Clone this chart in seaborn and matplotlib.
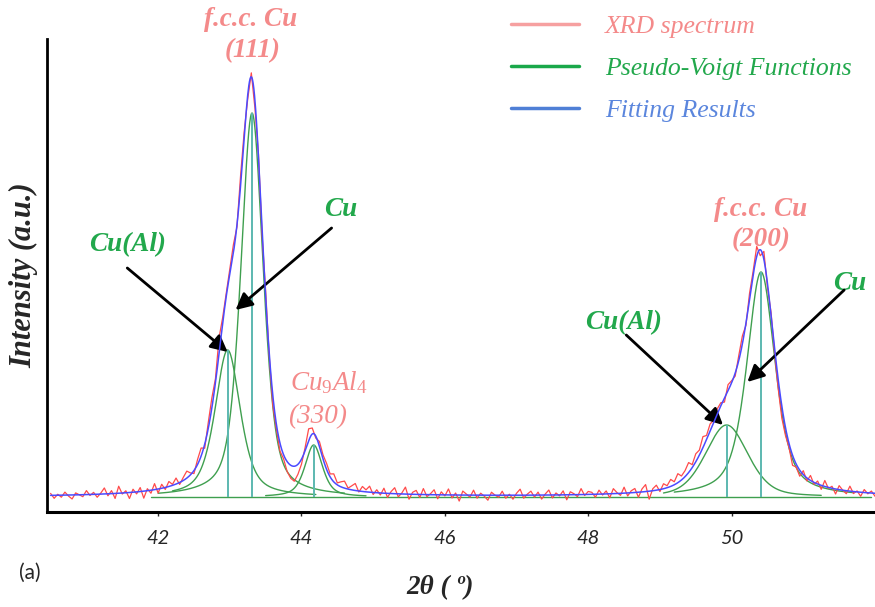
import numpy as np
import pandas as pd
import matplotlib
matplotlib.use("Agg")
import matplotlib.pyplot as plt
from matplotlib.lines import Line2D
import seaborn as sns

# ---------------- data ----------------
# Pseudo-Voigt components (centre in 2theta, height in a.u., FWHM, Lorentz fraction)
peak_names   = ["Cu(Al) 111", "Cu 111", "Cu9Al4 330", "Cu(Al) 200", "Cu 200"]
peak_centers = [42.97, 43.31, 44.17, 49.93, 50.41]
peak_heights = [147, 384, 52, 72, 225]
peak_fwhm    = [0.42, 0.37, 0.29, 0.70, 0.47]
peak_eta     = [0.6, 0.5, 0.6, 0.35, 0.6]
peak_lo      = [42.20, 42.00, 43.50, 49.05, 49.20]
peak_hi      = [44.20, 44.60, 44.90, 51.25, 51.70]

# Measured XRD spectrum: deviations from the fitted curve, every 0.05 deg from 40.5
scan_start, scan_step = 40.5, 0.05
res_40_42 = [2, -3, 1, -2, 3, -1, -4, 2, 0, -2, 4, -1, 2, -3, 1, 6, -2, 3, -5, 7,
             -1, 2, -6, 3, -2, 4, -7, 2, -3, 6, -4]
res_42_43 = [4, -2, 5, 1, 6, -2, 3, 7, 2, -3, 5, 8, -4, 6, 10, 4, 16, 6, 3]
res_43_top = [5, 8, -2, 10, 6, -4, 4, -8, 3, -6, 6, -3, -10]
res_43_valley = [-5, -8, -4, -10, -13, -15, -10, -5]
res_44_peak = [3, 12, 6, -2, 5, 4]
res_44_tail = [6, 3, 8, 2, 5, 7, 1, 4, 7, -1, 5, 2, 6, -2]
res_45_48 = [3, -2, 5, -4, 2, 6, -3, 1, 7, -5, 2, 4, -3, 6, -2, 1, 5, -4, 3, -1,
             6, -3, 2, -6, 4, 1, -2, 5, -3, 2, -1, -5, 3, 0, -2, 4, -3, 1, -4, 2,
             6, -3, 1, 4, -2, 3, -4, 1, 5, -3, 2, -1, 4, -5, 3, 1, -2, 6, -1, 3]
res_48_49 = [2, -3, 4, -1, 3, -4, 5, 1, -2, 6, -3, 2, 4, -5, 3, 7, -8, 2, 5, -2]
res_49_rise = [5, 2, 7, 3, 9, 4, 6, 10, 3, 8, 5, 11, 4, 7, 2, 5]
res_50_rise = [3, -4, 6, 2, -3, 5, 8, -2, 6, 4]
res_50_top = [10, -6, 8, -4]
res_50_fall = [3, -5, -9, -12, -8, -4, -10, -3]
res_51_52 = [-6, 4, -3, 5, -2, 3, -4, 6, -1, 2, -5, 4, 0, -3, 5, -2, 1, -4, 3, -1, 2, -3]

x_ticks = [42, 44, 46, 48, 50]


# ---------------- model ----------------
def pseudo_voigt(x, c, h, fwhm, eta):
    w = fwhm / 2.0
    lor = 1.0 / (1.0 + ((x - c) / w) ** 2)
    gau = np.exp(-np.log(2) * ((x - c) / w) ** 2)
    return h * (eta * lor + (1 - eta) * gau)


def fit_total(x):
    total = np.zeros_like(x, dtype=float)
    for c, h, f, e in zip(peak_centers, peak_heights, peak_fwhm, peak_eta):
        total += pseudo_voigt(x, c, h, f, e)
    return total


residuals = np.array(res_40_42 + res_42_43 + res_43_top + res_43_valley + res_44_peak
                     + res_44_tail + res_45_48 + res_48_49 + res_49_rise + res_50_rise
                     + res_50_top + res_50_fall + res_51_52, dtype=float)
x_scan = scan_start + scan_step * np.arange(len(residuals))
df_scan = pd.DataFrame({"two_theta": x_scan, "intensity": fit_total(x_scan) + residuals})

x_fine = np.linspace(40.5, 52.0, 2301)
df_fit = pd.DataFrame({"two_theta": x_fine, "intensity": fit_total(x_fine)})

comp_frames = []
for name, c, h, f, e, lo, hi in zip(peak_names, peak_centers, peak_heights, peak_fwhm,
                                    peak_eta, peak_lo, peak_hi):
    xx = np.linspace(lo, hi, 400)
    comp_frames.append(pd.DataFrame({"two_theta": xx,
                                     "intensity": pseudo_voigt(xx, c, h, f, e),
                                     "peak": name}))
df_comp = pd.concat(comp_frames, ignore_index=True)

# ---------------- figure ----------------
sns.set_style("white")
plt.rcParams["font.family"] = ["Liberation Serif", "DejaVu Serif"]
plt.rcParams["mathtext.fontset"] = "custom"
plt.rcParams["mathtext.rm"] = "Liberation Serif"
plt.rcParams["mathtext.it"] = "Liberation Serif:italic"

fig = plt.figure(figsize=(8.75, 6.07), dpi=100)
ax = fig.add_axes([47 / 875, 1 - 512 / 607, 1 - 47 / 875, (512 - 39) / 607])

RED = "#ff4a4a"
BLUE = "#4a4aff"
GREEN = "#3f9f4f"
TEAL = "#5cb8b0"
PINK = "#f48a8a"
LGREEN = "#22a84c"

# green baseline
ax.plot([41.9, 51.95], [0, 0], color=GREEN, lw=1.0, zorder=2)
sns.lineplot(data=df_comp, x="two_theta", y="intensity", units="peak", estimator=None,
             color=GREEN, lw=1.0, ax=ax, zorder=2, legend=False)
ax.vlines(peak_centers, 0, peak_heights, color=TEAL, lw=1.4, zorder=2)
sns.lineplot(data=df_scan, x="two_theta", y="intensity", color=RED, lw=0.9, ax=ax,
             zorder=3, legend=False)
sns.lineplot(data=df_fit, x="two_theta", y="intensity", color=BLUE, lw=1.1, ax=ax,
             zorder=4, legend=False)

SANS = ["Lato", "Liberation Sans", "DejaVu Sans"]
ax.set_xlim(40.45, 52.0)
ax.set_ylim(-15, 458)
ax.set_xticks(x_ticks)
ax.set_xticklabels([str(t) for t in x_ticks], family=SANS, style="italic", fontsize=14.5)
ax.set_yticks([])
ax.tick_params(axis="x", direction="out", length=3, width=1, pad=10, bottom=True)
for s in ["top", "right"]:
    ax.spines[s].set_visible(False)
ax.spines["left"].set_linewidth(2.0)
ax.spines["bottom"].set_linewidth(2.2)
ax.spines["left"].set_color("black")
ax.spines["bottom"].set_color("black")

ax.set_ylabel("Intensity (a.u.)", fontsize=22, fontweight="bold", style="italic", labelpad=6)
ax.set_xlabel("2θ ( º)", fontsize=19.5, fontweight="bold", style="italic")
ax.xaxis.set_label_coords((440 - 47) / 828, -0.134)

fig.text(30 / 875, 1 - 573 / 607, "(a)", fontsize=15, family=SANS,
         ha="center", va="center")

# annotations
bi = dict(fontweight="bold", style="italic", fontsize=19.5, ha="center", va="center")
it = dict(style="italic", fontsize=19.5, ha="center", va="center")
ax.text(43.29, 478, "f.c.c. Cu", color=PINK, **bi)
ax.text(43.32, 446, "(111)", color=PINK, **bi)
ax.text(50.41, 287, "f.c.c. Cu", color=PINK, **bi)
ax.text(50.41, 257, "(200)", color=PINK, **bi)
ax.text(44.38, 114, r"Cu$_9$Al$_4$", color=PINK, **it)
ax.text(44.23, 80, "(330)", color=PINK, **it)
ax.text(41.57, 252, "Cu(Al)", color=LGREEN, **bi)
ax.text(44.55, 287, "Cu", color=LGREEN, **bi)
ax.text(48.49, 174, "Cu(Al)", color=LGREEN, **bi)
ax.text(51.65, 214, "Cu", color=LGREEN, **bi)

arrow = dict(arrowstyle="-|>", mutation_scale=25, lw=2.0, color="black", shrinkA=0, shrinkB=0)
ax.annotate("", xy=(42.97, 145), xytext=(41.57, 229), arrowprops=arrow)
ax.annotate("", xy=(43.08, 187), xytext=(44.42, 269), arrowprops=arrow)
ax.annotate("", xy=(49.88, 72), xytext=(48.53, 162), arrowprops=arrow)
ax.annotate("", xy=(50.22, 115), xytext=(51.57, 207), arrowprops=arrow)

# legend
handles = [Line2D([], [], color="#f6a0a0", lw=2.5),
           Line2D([], [], color="#1aa84a", lw=2.5),
           Line2D([], [], color="#4f7fd6", lw=2.5)]
labels = ["XRD spectrum", "Pseudo-Voigt Functions", "Fitting Results"]
ax.legend(handles, labels, loc="upper left", bbox_to_anchor=(511 / 875, 1 - 15 / 607),
          bbox_transform=fig.transFigure, frameon=False, handlelength=2.65,
          handletextpad=1.0, labelspacing=0.74, borderpad=0, borderaxespad=0,
          labelcolor=["#f48a8a", "#22a84c", "#5b86dd"],
          prop=dict(family="Liberation Serif", style="italic", size=18.5))

fig.savefig("out.png", dpi=100)
